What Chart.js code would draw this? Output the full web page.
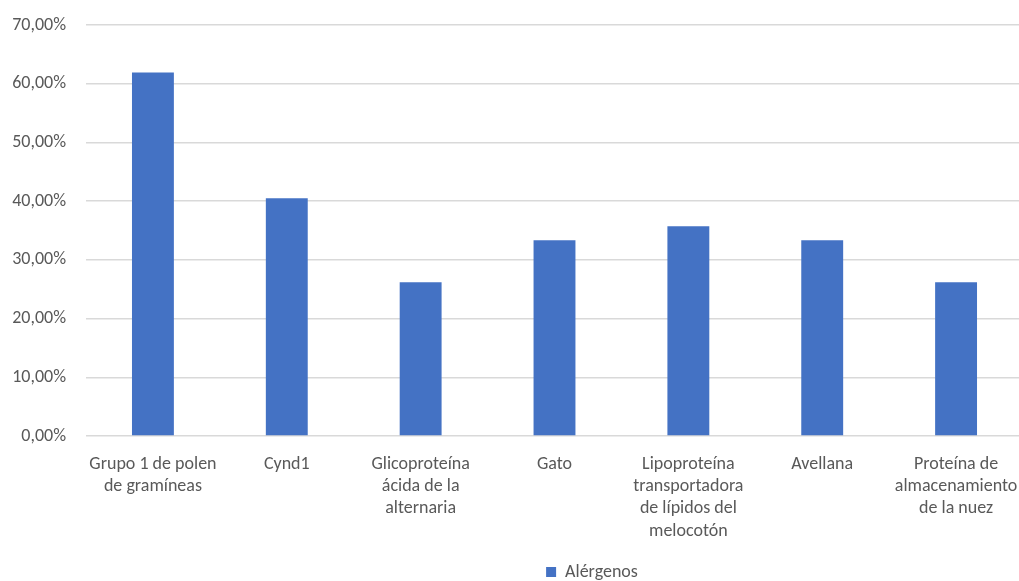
<!DOCTYPE html>
<html>
<head>
<meta charset="utf-8">
<script src="https://cdn.jsdelivr.net/npm/chart.js@4.4.1/dist/chart.umd.min.js"></script>
<style>
  html, body { margin: 0; padding: 0; background: #fff; overflow: hidden; }
  #wrap { position: relative; width: 1184px; height: 581px; }
</style>
</head>
<body>
<div id="wrap"><canvas id="alergenosChart"></canvas></div>
<script>
// Categories (multi-line labels as in the original)
const categories = [
  ["Grupo 1 de polen", "de gramíneas"],
  ["Cynd1"],
  ["Glicoproteína", "ácida de la", "alternaria"],
  ["Gato"],
  ["Lipoproteína", "transportadora", "de lípidos del", "melocotón"],
  ["Avellana"],
  ["Proteína de", "almacenamiento", "de la nuez"]
];

// Series values (%)
const alergenos = [61.90, 40.48, 26.19, 33.33, 35.71, 33.33, 26.19];

// Y axis range
const yMin = 0;
const yMax = 70;
const yStep = 10;

const textColor = "#595959";
const gridColor = "#d9d9d9";
const barColor = "#4472c4";
const fontFamily = "Carlito, Lato, 'Open Sans', sans-serif";

const ctx = document.getElementById("alergenosChart");
new Chart(ctx, {
  type: "bar",
  data: {
    labels: categories,
    datasets: [{
      label: "Alérgenos",
      data: alergenos,
      backgroundColor: barColor,
      borderWidth: 0,
      categoryPercentage: 1,
      barPercentage: 0.313
    }]
  },
  options: {
    responsive: true,
    maintainAspectRatio: false,
    animation: false,
    layout: { padding: { top: 25, left: 0, right: 0, bottom: -10 } },
    plugins: {
      tooltip: { enabled: false },
      legend: {
        position: "bottom",
        labels: {
          color: textColor,
          font: { family: fontFamily, size: 18 },
          boxWidth: 10,
          boxHeight: 10,
          padding: 0
        }
      }
    },
    scales: {
      x: {
        grid: { display: false },
        border: { display: false },
        ticks: {
          color: textColor,
          font: { family: fontFamily, size: 18, lineHeight: 1.24 },
          padding: 9,
          maxRotation: 0,
          autoSkip: false
        },
        afterFit: (scale) => { scale.height = 127; }
      },
      y: {
        min: yMin,
        max: yMax,
        border: { display: false },
        grid: { color: gridColor, lineWidth: 1.5, drawTicks: false },
        ticks: {
          stepSize: yStep,
          color: textColor,
          font: { family: fontFamily, size: 18 },
          padding: 20,
          callback: (v) => v.toFixed(2).replace(".", ",") + "%"
        },
        afterFit: (scale) => {
          scale.width = 86;
          scale.paddingTop = 0;
          scale.paddingBottom = 0;
        }
      },
      // empty right-hand spacer so the plot ends where the original was cropped
      spacer: {
        type: "linear",
        position: "right",
        display: true,
        grid: { display: false },
        border: { display: false },
        ticks: { display: false },
        afterFit: (scale) => { scale.width = 161; }
      }
    }
  }
});
</script>
</body>
</html>
